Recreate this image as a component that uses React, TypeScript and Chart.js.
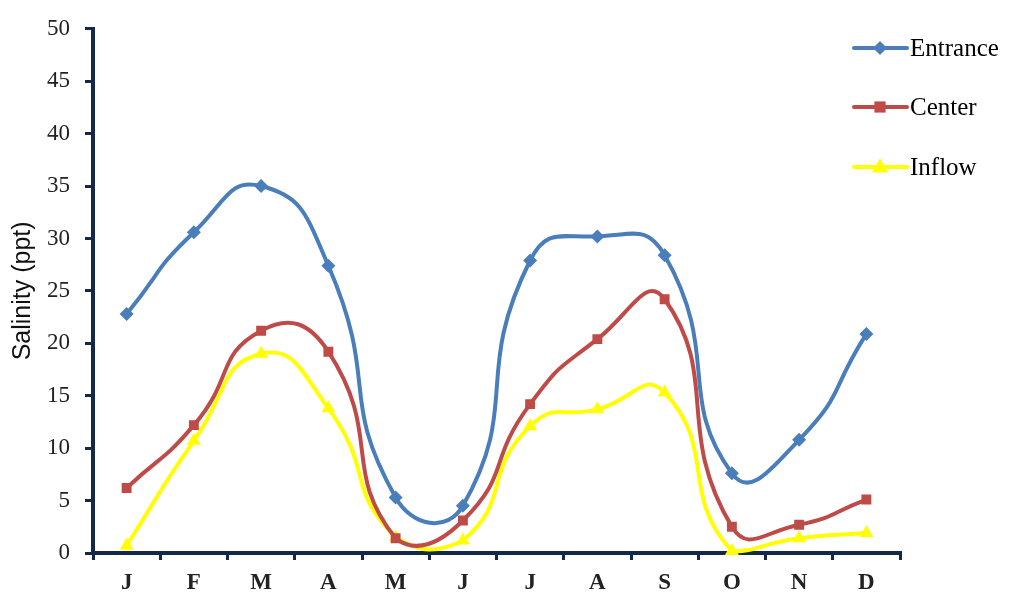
import React, { useEffect, useRef } from "react";
import { Chart, registerables } from "chart.js";

Chart.register(...registerables);

const months = ["J", "F", "M", "A", "M", "J", "J", "A", "S", "O", "N", "D"];
const entrance = [22.8, 30.6, 35.0, 27.4, 5.3, 4.5, 27.9, 30.2, 28.4, 7.6, 10.8, 20.9];
const center = [6.2, 12.2, 21.2, 19.2, 1.4, 3.1, 14.2, 20.4, 24.2, 2.5, 2.7, 5.1];
const inflow = [0.7, 10.7, 19.0, 13.8, 1.5, 1.2, 12.1, 13.7, 15.3, 0.2, 1.4, 1.9];
const seriesNames = ["Entrance", "Center", "Inflow"];
const seriesColors = ["#4a7ebb", "#be4b48", "#ffff00"];
const seriesMarkers = ["rectRot", "rect", "triangle"];

const AXIS = "#14284a";

const legendPlugin = {
  id: "customLegend",
  afterDraw(chart: any) {
    const ctx = chart.ctx;
    const rows = [48, 107, 167];
    chart.data.datasets.forEach((ds: any, i: number) => {
      const y = rows[i];
      ctx.save();
      ctx.strokeStyle = ds.borderColor;
      ctx.lineWidth = 4;
      ctx.lineCap = "round";
      ctx.beginPath();
      ctx.moveTo(854, y);
      ctx.lineTo(907, y);
      ctx.stroke();
      ctx.fillStyle = ds.borderColor;
      const style = seriesMarkers[i];
      const r = ds.pointRadius;
      ctx.beginPath();
      if (style === "rectRot") {
        ctx.moveTo(880, y - r); ctx.lineTo(880 + r, y); ctx.lineTo(880, y + r); ctx.lineTo(880 - r, y);
      } else if (style === "rect") {
        ctx.rect(880 - r * 0.8, y - r * 0.8, r * 1.6, r * 1.6);
      } else {
        ctx.moveTo(880, y - r * 1.1); ctx.lineTo(880 + r, y + r * 0.7); ctx.lineTo(880 - r, y + r * 0.7);
      }
      ctx.closePath();
      ctx.fill();
      ctx.fillStyle = "#000";
      ctx.font = "25px 'Liberation Serif'";
      ctx.textAlign = "left";
      ctx.textBaseline = "middle";
      ctx.fillText(ds.label, 910, y + 1);
      ctx.restore();
    });
  },
};

export default function App() {
  const ref = useRef<HTMLCanvasElement>(null);
  useEffect(() => {
    document.body.style.margin = "0";
    const values = [entrance, center, inflow];
    const chart = new Chart(ref.current!, {
      type: "line",
      data: {
        labels: months,
        datasets: values.map((v, i) => ({
          label: seriesNames[i],
          data: v,
          borderColor: seriesColors[i],
          backgroundColor: seriesColors[i],
          borderWidth: 4,
          pointStyle: seriesMarkers[i] as any,
          pointRadius: i === 2 ? 8 : 7,
          pointBorderWidth: 0,
          tension: 0.55,
          fill: false,
          clip: { left: 10, right: 10, top: 10, bottom: 2 } as any,
        })),
      },
      options: {
        responsive: false,
        animation: false,
        layout: { padding: { top: 23, right: 110, left: 0, bottom: 0 } },
        plugins: { legend: { display: false }, tooltip: { enabled: false } },
        scales: {
          x: {
            offset: true,
            z: 1,
            grid: {
              offset: true,
              drawOnChartArea: false,
              drawTicks: true,
              tickLength: 7,
              color: AXIS,
              lineWidth: 3,
            },
            border: { display: true, color: AXIS, width: 4 },
            ticks: {
              color: "#222",
              padding: 9,
              font: { family: "'Liberation Serif'", size: 23, weight: "bold" },
            },
            afterFit: (s: any) => { s.height = 42; },
          },
          y: {
            min: 0,
            max: 50,
            z: 1,
            grid: {
              drawOnChartArea: false,
              drawTicks: true,
              tickLength: 8,
              color: AXIS,
              lineWidth: 3,
            },
            border: { display: true, color: AXIS, width: 4 },
            ticks: {
              stepSize: 5,
              color: "#222",
              padding: 15,
              font: { family: "'Liberation Serif'", size: 23 },
            },
            title: {
              display: true,
              text: "Salinity (ppt)",
              color: "#111",
              padding: { top: 8, bottom: 0 },
              font: { family: "'Liberation Sans'", size: 25 },
            },
            afterFit: (s: any) => { s.width = 93; },
          },
        },
      },
      plugins: [legendPlugin],
    });
    return () => chart.destroy();
  }, []);
  return (
    <div style={{ width: 1010, height: 595 }}>
      <canvas ref={ref} width={1010} height={595} />
    </div>
  );
}
